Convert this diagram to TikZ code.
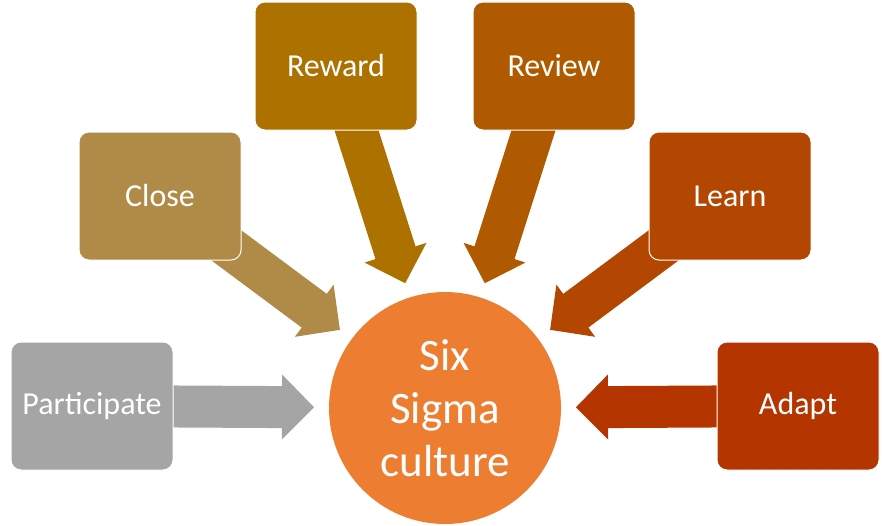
\documentclass[tikz,border=0pt]{standalone}
\usepackage{fontspec}
\setmainfont{Carlito}
\usetikzlibrary{calc,backgrounds}
\definecolor{cPart}{HTML}{A5A5A5}
\definecolor{cClose}{HTML}{B08B48}
\definecolor{cReward}{HTML}{AD7100}
\definecolor{cReview}{HTML}{B05A00}
\definecolor{cLearn}{HTML}{B34600}
\definecolor{cAdapt}{HTML}{B43500}
\definecolor{cCirc}{HTML}{ED7D31}
\newcommand\sigarrow[2]{%
  \coordinate (#1t) at ($(core)!131pt!(#1)$);
  \coordinate (#1h) at ($(core)!163pt!(#1)$);
  \fill[#2] (#1t) -- ($(#1h)!32.5pt!90:(core)$) -- ($(#1h)!21pt!90:(core)$)
    -- ($(#1)!21pt!90:(core)$) -- ($(#1)!21pt!-90:(core)$)
    -- ($(#1h)!21pt!-90:(core)$) -- ($(#1h)!32.5pt!-90:(core)$) -- cycle;
}
\begin{document}
\begin{tikzpicture}[x=1pt,y=-1pt,
  box/.style={rounded corners=10pt, minimum width=162pt, minimum height=128pt,
    draw=white, line width=1pt, text=white, inner sep=0pt,
    font=\fontsize{32}{38}\selectfont},
  core/.style={circle, fill=cCirc, minimum size=232pt, inner sep=0pt,
    text=white, align=center, font=\fontsize{45}{53}\selectfont}]
\useasboundingbox (0,0) rectangle (882,525);
\node[core] (core) at (445,408) {Six\\Sigma\\culture};
\node[box, fill=cPart]   (part)   at (92,406)  {Participate};
\node[box, fill=cClose]  (close)  at (160,196) {Close};
\node[box, fill=cReward] (reward) at (336,66)  {Reward};
\node[box, fill=cReview] (review) at (554,66)  {Review};
\node[box, fill=cLearn]  (learn)  at (730,196) {Learn};
\node[box, fill=cAdapt]  (adapt)  at (798,406) {Adapt};
\begin{pgfonlayer}{background}
  \sigarrow{part}{cPart}
  \sigarrow{close}{cClose}
  \sigarrow{reward}{cReward}
  \sigarrow{review}{cReview}
  \sigarrow{learn}{cLearn}
  \sigarrow{adapt}{cAdapt}
\end{pgfonlayer}
\end{tikzpicture}
\end{document}
